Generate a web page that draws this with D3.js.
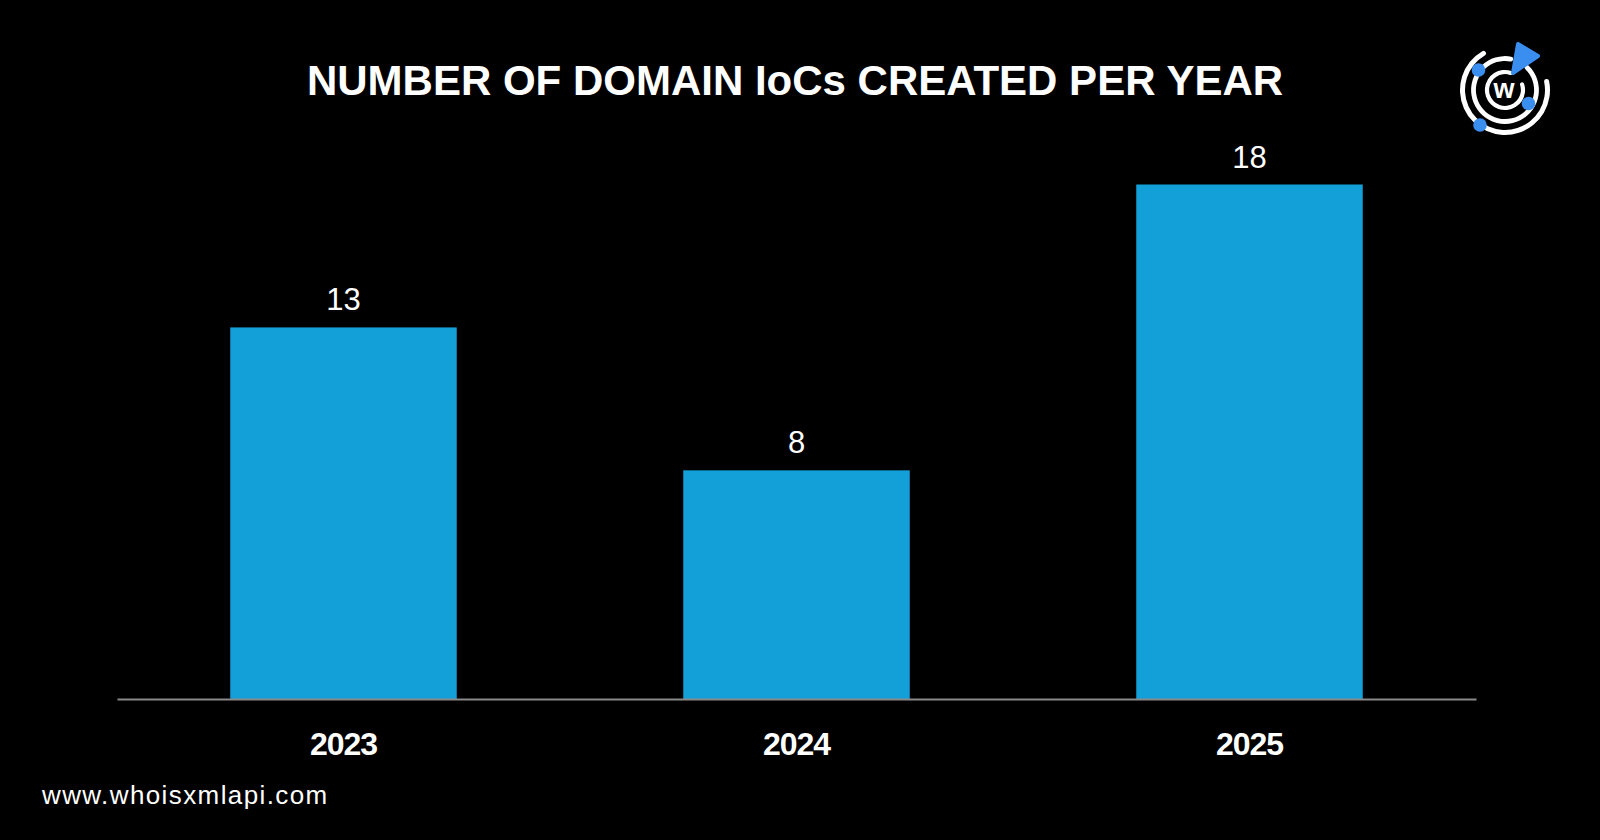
<!DOCTYPE html>
<html>
<head>
<meta charset="utf-8">
<script src="https://cdn.jsdelivr.net/npm/d3@7"></script>
<style>
  html, body { margin: 0; padding: 0; background: #000; }
  svg { display: block; }
</style>
</head>
<body>
<svg id="chart" width="1600" height="840"></svg>
<script>
const categories = ["2023", "2024", "2025"];
const values = [13, 8, 18];
const title = "NUMBER OF DOMAIN IoCs CREATED PER YEAR";
const footer = "www.whoisxmlapi.com";

const svg = d3.select("#chart");
svg.append("rect").attr("width", 1600).attr("height", 840).attr("fill", "#000");

const x = d3.scaleBand().domain(categories).range([117, 1476]).paddingInner(0.5).paddingOuter(0.25);
const y = d3.scaleLinear().domain([0, 18]).range([699, 184.5]);

// title
svg.append("text")
  .attr("x", 795).attr("y", 95)
  .attr("text-anchor", "middle")
  .attr("fill", "#fff")
  .style("font-family", "'Liberation Sans', Arial, sans-serif")
  .style("font-weight", "bold")
  .style("font-size", "42px")
  .text(title);

// bars
svg.selectAll("rect.bar").data(values).join("rect")
  .attr("class", "bar")
  .attr("x", (d, i) => x(categories[i]))
  .attr("y", d => y(d))
  .attr("width", x.bandwidth())
  .attr("height", d => y(0) - y(d))
  .attr("fill", "#139fd7");

// value labels
svg.selectAll("text.val").data(values).join("text")
  .attr("class", "val")
  .attr("x", (d, i) => x(categories[i]) + x.bandwidth() / 2)
  .attr("y", d => y(d) - 17)
  .attr("text-anchor", "middle")
  .attr("fill", "#fff")
  .style("font-family", "'Liberation Sans', Arial, sans-serif")
  .style("font-size", "31px")
  .text(d => d);

// axis
const axis = d3.axisBottom(x).tickSize(0).tickPadding(0);
const gx = svg.append("g").attr("transform", `translate(0,${y(0)})`).call(axis);
gx.select(".domain").attr("stroke", "#8a8a8a").attr("stroke-width", 2);
gx.selectAll(".tick text")
  .attr("y", 56)
  .attr("dy", 0)
  .attr("fill", "#fff")
  .style("font-family", "'Liberation Sans', Arial, sans-serif")
  .style("font-weight", "bold")
  .style("font-size", "32px")
  .style("letter-spacing", "-1px");

// footer
svg.append("text")
  .attr("x", 42).attr("y", 804)
  .attr("fill", "#fff")
  .style("font-family", "'Liberation Sans', Arial, sans-serif")
  .style("font-size", "26px")
  .style("letter-spacing", "1.4px")
  .text(footer);

// logo
const logo = svg.append("g").attr("transform", "translate(1505,90)");
const deg = Math.PI / 180;
const ringArc = (r, w, a0, a1) => d3.arc().innerRadius(r - w / 2).outerRadius(r + w / 2)
  .startAngle(a0 * deg).endAngle(a1 * deg).cornerRadius(w / 2)();
logo.append("path").attr("d", ringArc(42.5, 5, 75, 333)).attr("fill", "#fff");
logo.append("path").attr("d", ringArc(31.5, 4.8, 40, 375)).attr("fill", "#fff");
logo.append("path").attr("d", ringArc(18, 4.2, 65, 385)).attr("fill", "#fff");
logo.append("text").attr("x", -1).attr("y", 7.5)
  .attr("text-anchor", "middle").attr("fill", "#fff")
  .style("font-family", "'Liberation Sans', Arial, sans-serif")
  .style("font-weight", "bold").style("font-size", "27px").text("w");
const blue = "#3a8ef0";
[[-26.5, -20], [23.5, 13.5], [-25, 35]].forEach(p => {
  logo.append("circle").attr("cx", p[0]).attr("cy", p[1]).attr("r", 6.8).attr("fill", blue);
});
logo.append("path")
  .attr("d", "M13,-46 L33,-34 L8,-17 Z")
  .attr("fill", blue).attr("stroke", blue)
  .attr("stroke-width", 4).attr("stroke-linejoin", "round");
</script>
</body>
</html>
